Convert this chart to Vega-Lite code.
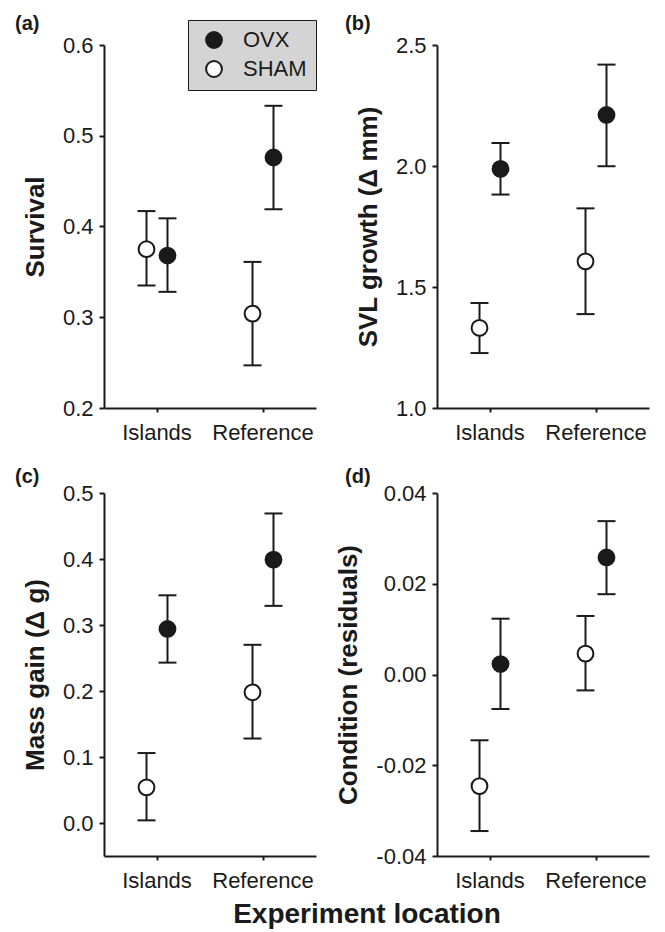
{
  "$schema": "https://vega.github.io/schema/vega-lite/v6.json",
  "padding": {"left": 15, "top": 13, "right": 16, "bottom": 5},
  "background": "white",
  "data": {"values": [
    {"panel": "a", "location": "Islands", "group": "SHAM", "mean": 0.375, "lo": 0.335, "hi": 0.417},
    {"panel": "a", "location": "Islands", "group": "OVX", "mean": 0.368, "lo": 0.328, "hi": 0.409},
    {"panel": "a", "location": "Reference", "group": "SHAM", "mean": 0.304, "lo": 0.247, "hi": 0.361},
    {"panel": "a", "location": "Reference", "group": "OVX", "mean": 0.476, "lo": 0.419, "hi": 0.533},
    {"panel": "b", "location": "Islands", "group": "SHAM", "mean": 1.331, "lo": 1.227, "hi": 1.434},
    {"panel": "b", "location": "Islands", "group": "OVX", "mean": 1.988, "lo": 1.882, "hi": 2.095},
    {"panel": "b", "location": "Reference", "group": "SHAM", "mean": 1.606, "lo": 1.388, "hi": 1.825},
    {"panel": "b", "location": "Reference", "group": "OVX", "mean": 2.211, "lo": 1.999, "hi": 2.419},
    {"panel": "c", "location": "Islands", "group": "SHAM", "mean": 0.054, "lo": 0.004, "hi": 0.106},
    {"panel": "c", "location": "Islands", "group": "OVX", "mean": 0.294, "lo": 0.243, "hi": 0.345},
    {"panel": "c", "location": "Reference", "group": "SHAM", "mean": 0.198, "lo": 0.128, "hi": 0.270},
    {"panel": "c", "location": "Reference", "group": "OVX", "mean": 0.399, "lo": 0.329, "hi": 0.469},
    {"panel": "d", "location": "Islands", "group": "SHAM", "mean": -0.0246, "lo": -0.0345, "hi": -0.0145},
    {"panel": "d", "location": "Islands", "group": "OVX", "mean": 0.0023, "lo": -0.0076, "hi": 0.0123},
    {"panel": "d", "location": "Reference", "group": "SHAM", "mean": 0.0046, "lo": -0.0035, "hi": 0.0129},
    {"panel": "d", "location": "Reference", "group": "OVX", "mean": 0.0258, "lo": 0.0177, "hi": 0.0338}
  ]},
  "title": {"text": "Experiment location", "orient": "bottom", "anchor": "middle", "frame": "bounds", "fontSize": 28, "fontWeight": "bold", "color": "#1a1a1a", "font": "Liberation Sans", "offset": 10, "dx": 35},
  "columns": 2,
  "bounds": "flush",
  "spacing": {"row": 85, "column": 121},
  "resolve": {"scale": {"fill": "independent", "y": "independent"}, "legend": {"fill": "independent"}, "axis": {"y": "independent"}},
  "concat": [
    {
      "width": 212, "height": 363,
      "title": {"text": "(a)", "anchor": "start", "frame": "group", "dx": -89, "offset": -30, "baseline": "alphabetic", "fontSize": 20, "fontWeight": "bold", "color": "#1a1a1a", "font": "Liberation Sans"},
      "transform": [{"filter": "datum.panel == 'a'"}],
      "encoding": {
        "x": {"field": "location", "type": "nominal", "scale": {"type": "band", "paddingInner": 0.604, "paddingOuter": 0.302}, "axis": {"title": null, "labelAngle": 0, "labelPadding": 10, "tickSize": 4}},
        "xOffset": {"field": "group", "type": "nominal", "scale": {"domain": ["SHAM", "OVX"], "paddingInner": 0, "paddingOuter": 0}},
        "y": {"field": "mean", "type": "quantitative", "scale": {"domain": [0.2, 0.6], "zero": false, "nice": false}, "axis": {"values": [0.2, 0.3, 0.4, 0.5, 0.6], "format": ".1f", "title": "Survival"}}
      },
      "layer": [
        {"mark": {"type": "rule", "color": "#1a1a1a", "strokeWidth": 2},
         "encoding": {"y": {"field": "lo", "type": "quantitative", "scale": {"domain": [0.2, 0.6], "zero": false, "nice": false}, "axis": {"values": [0.2, 0.3, 0.4, 0.5, 0.6], "format": ".1f", "title": "Survival"}}, "y2": {"field": "hi"}}},
        {"mark": {"type": "tick", "orient": "horizontal", "size": 18, "thickness": 2, "color": "#1a1a1a", "opacity": 1},
         "encoding": {"y": {"field": "lo", "type": "quantitative", "scale": {"domain": [0.2, 0.6], "zero": false, "nice": false}, "axis": {"values": [0.2, 0.3, 0.4, 0.5, 0.6], "format": ".1f", "title": "Survival"}}}},
        {"mark": {"type": "tick", "orient": "horizontal", "size": 18, "thickness": 2, "color": "#1a1a1a", "opacity": 1},
         "encoding": {"y": {"field": "hi", "type": "quantitative", "scale": {"domain": [0.2, 0.6], "zero": false, "nice": false}, "axis": {"values": [0.2, 0.3, 0.4, 0.5, 0.6], "format": ".1f", "title": "Survival"}}}},
        {"mark": {"type": "point", "filled": true, "size": 250, "stroke": "#1a1a1a", "strokeWidth": 2, "opacity": 1},
         "encoding": {
           "fill": {"field": "group", "type": "nominal", "scale": {"domain": ["OVX", "SHAM"], "range": ["#1a1a1a", "#ffffff"]},
             "legend": {"orient": "none", "legendX": 84, "legendY": -25, "title": null, "fillColor": "#d4d4d4", "strokeColor": "#1a1a1a", "padding": 9, "symbolType": "circle", "symbolSize": 250, "symbolStrokeColor": "#1a1a1a", "symbolStrokeWidth": 2, "labelFontSize": 22, "labelColor": "#1a1a1a", "labelFont": "Liberation Sans", "labelOffset": 18, "rowPadding": 5, "symbolOffset": 6}}
         }}
      ]
    },
    {
      "width": 212, "height": 363,
      "title": {"text": "(b)", "anchor": "start", "frame": "group", "dx": -92, "offset": -16, "baseline": "alphabetic", "fontSize": 20, "fontWeight": "bold", "color": "#1a1a1a", "font": "Liberation Sans"},
      "transform": [{"filter": "datum.panel == 'b'"}],
      "encoding": {
        "x": {"field": "location", "type": "nominal", "scale": {"type": "band", "paddingInner": 0.604, "paddingOuter": 0.302}, "axis": {"title": null, "labelAngle": 0, "labelPadding": 10, "tickSize": 4}},
        "xOffset": {"field": "group", "type": "nominal", "scale": {"domain": ["SHAM", "OVX"], "paddingInner": 0, "paddingOuter": 0}},
        "y": {"field": "mean", "type": "quantitative", "scale": {"domain": [1.0, 2.5], "zero": false, "nice": false}, "axis": {"values": [1.0, 1.5, 2.0, 2.5], "format": ".1f", "title": "SVL growth (Δ mm)"}}
      },
      "layer": [
        {"mark": {"type": "rule", "color": "#1a1a1a", "strokeWidth": 2},
         "encoding": {"y": {"field": "lo", "type": "quantitative", "scale": {"domain": [1.0, 2.5], "zero": false, "nice": false}, "axis": {"values": [1.0, 1.5, 2.0, 2.5], "format": ".1f", "title": "SVL growth (Δ mm)"}}, "y2": {"field": "hi"}}},
        {"mark": {"type": "tick", "orient": "horizontal", "size": 18, "thickness": 2, "color": "#1a1a1a", "opacity": 1},
         "encoding": {"y": {"field": "lo", "type": "quantitative", "scale": {"domain": [1.0, 2.5], "zero": false, "nice": false}, "axis": {"values": [1.0, 1.5, 2.0, 2.5], "format": ".1f", "title": "SVL growth (Δ mm)"}}}},
        {"mark": {"type": "tick", "orient": "horizontal", "size": 18, "thickness": 2, "color": "#1a1a1a", "opacity": 1},
         "encoding": {"y": {"field": "hi", "type": "quantitative", "scale": {"domain": [1.0, 2.5], "zero": false, "nice": false}, "axis": {"values": [1.0, 1.5, 2.0, 2.5], "format": ".1f", "title": "SVL growth (Δ mm)"}}}},
        {"mark": {"type": "point", "filled": true, "size": 250, "stroke": "#1a1a1a", "strokeWidth": 2, "opacity": 1},
         "encoding": {
           "fill": {"field": "group", "type": "nominal", "scale": {"domain": ["OVX", "SHAM"], "range": ["#1a1a1a", "#ffffff"]}, "legend": null}
         }}
      ]
    },
    {
      "width": 212, "height": 363,
      "title": {"text": "(c)", "anchor": "start", "frame": "group", "dx": -89, "offset": -21, "baseline": "alphabetic", "fontSize": 20, "fontWeight": "bold", "color": "#1a1a1a", "font": "Liberation Sans"},
      "transform": [{"filter": "datum.panel == 'c'"}],
      "encoding": {
        "x": {"field": "location", "type": "nominal", "scale": {"type": "band", "paddingInner": 0.604, "paddingOuter": 0.302}, "axis": {"title": null, "labelAngle": 0, "labelPadding": 10, "tickSize": 4}},
        "xOffset": {"field": "group", "type": "nominal", "scale": {"domain": ["SHAM", "OVX"], "paddingInner": 0, "paddingOuter": 0}},
        "y": {"field": "mean", "type": "quantitative", "scale": {"domain": [-0.05, 0.5], "zero": false, "nice": false}, "axis": {"values": [0.0, 0.1, 0.2, 0.3, 0.4, 0.5], "format": ".1f", "title": "Mass gain (Δ g)"}}
      },
      "layer": [
        {"mark": {"type": "rule", "color": "#1a1a1a", "strokeWidth": 2},
         "encoding": {"y": {"field": "lo", "type": "quantitative", "scale": {"domain": [-0.05, 0.5], "zero": false, "nice": false}, "axis": {"values": [0.0, 0.1, 0.2, 0.3, 0.4, 0.5], "format": ".1f", "title": "Mass gain (Δ g)"}}, "y2": {"field": "hi"}}},
        {"mark": {"type": "tick", "orient": "horizontal", "size": 18, "thickness": 2, "color": "#1a1a1a", "opacity": 1},
         "encoding": {"y": {"field": "lo", "type": "quantitative", "scale": {"domain": [-0.05, 0.5], "zero": false, "nice": false}, "axis": {"values": [0.0, 0.1, 0.2, 0.3, 0.4, 0.5], "format": ".1f", "title": "Mass gain (Δ g)"}}}},
        {"mark": {"type": "tick", "orient": "horizontal", "size": 18, "thickness": 2, "color": "#1a1a1a", "opacity": 1},
         "encoding": {"y": {"field": "hi", "type": "quantitative", "scale": {"domain": [-0.05, 0.5], "zero": false, "nice": false}, "axis": {"values": [0.0, 0.1, 0.2, 0.3, 0.4, 0.5], "format": ".1f", "title": "Mass gain (Δ g)"}}}},
        {"mark": {"type": "point", "filled": true, "size": 250, "stroke": "#1a1a1a", "strokeWidth": 2, "opacity": 1},
         "encoding": {
           "fill": {"field": "group", "type": "nominal", "scale": {"domain": ["OVX", "SHAM"], "range": ["#1a1a1a", "#ffffff"]}, "legend": null}
         }}
      ]
    },
    {
      "width": 212, "height": 363,
      "title": {"text": "(d)", "anchor": "start", "frame": "group", "dx": -92, "offset": -21, "baseline": "alphabetic", "fontSize": 20, "fontWeight": "bold", "color": "#1a1a1a", "font": "Liberation Sans"},
      "transform": [{"filter": "datum.panel == 'd'"}],
      "encoding": {
        "x": {"field": "location", "type": "nominal", "scale": {"type": "band", "paddingInner": 0.604, "paddingOuter": 0.302}, "axis": {"title": null, "labelAngle": 0, "labelPadding": 10, "tickSize": 4}},
        "xOffset": {"field": "group", "type": "nominal", "scale": {"domain": ["SHAM", "OVX"], "paddingInner": 0, "paddingOuter": 0}},
        "y": {"field": "mean", "type": "quantitative", "scale": {"domain": [-0.04, 0.04], "zero": false, "nice": false}, "axis": {"values": [-0.04, -0.02, 0, 0.02, 0.04], "labelExpr": "datum.value < 0 ? '-' + format(-datum.value, '.2f') : format(datum.value, '.2f')", "title": "Condition (residuals)"}}
      },
      "layer": [
        {"mark": {"type": "rule", "color": "#1a1a1a", "strokeWidth": 2},
         "encoding": {"y": {"field": "lo", "type": "quantitative", "scale": {"domain": [-0.04, 0.04], "zero": false, "nice": false}, "axis": {"values": [-0.04, -0.02, 0, 0.02, 0.04], "labelExpr": "datum.value < 0 ? '-' + format(-datum.value, '.2f') : format(datum.value, '.2f')", "title": "Condition (residuals)"}}, "y2": {"field": "hi"}}},
        {"mark": {"type": "tick", "orient": "horizontal", "size": 18, "thickness": 2, "color": "#1a1a1a", "opacity": 1},
         "encoding": {"y": {"field": "lo", "type": "quantitative", "scale": {"domain": [-0.04, 0.04], "zero": false, "nice": false}, "axis": {"values": [-0.04, -0.02, 0, 0.02, 0.04], "labelExpr": "datum.value < 0 ? '-' + format(-datum.value, '.2f') : format(datum.value, '.2f')", "title": "Condition (residuals)"}}}},
        {"mark": {"type": "tick", "orient": "horizontal", "size": 18, "thickness": 2, "color": "#1a1a1a", "opacity": 1},
         "encoding": {"y": {"field": "hi", "type": "quantitative", "scale": {"domain": [-0.04, 0.04], "zero": false, "nice": false}, "axis": {"values": [-0.04, -0.02, 0, 0.02, 0.04], "labelExpr": "datum.value < 0 ? '-' + format(-datum.value, '.2f') : format(datum.value, '.2f')", "title": "Condition (residuals)"}}}},
        {"mark": {"type": "point", "filled": true, "size": 250, "stroke": "#1a1a1a", "strokeWidth": 2, "opacity": 1},
         "encoding": {
           "fill": {"field": "group", "type": "nominal", "scale": {"domain": ["OVX", "SHAM"], "range": ["#1a1a1a", "#ffffff"]}, "legend": null}
         }}
      ]
    }
  ],
  "config": {
    "font": "Liberation Sans",
    "view": {"stroke": null},
    "axis": {"domainColor": "#1a1a1a", "domainWidth": 2, "tickColor": "#1a1a1a", "tickWidth": 2, "tickSize": 5, "labelFontSize": 22, "labelColor": "#1a1a1a", "labelFont": "Liberation Sans", "grid": false, "titleFontSize": 26, "titleFontWeight": "bold", "titleColor": "#1a1a1a", "titleFont": "Liberation Sans", "labelFlush": false},
    "axisY": {"labelPadding": 6, "titlePadding": 14}
  }
}
